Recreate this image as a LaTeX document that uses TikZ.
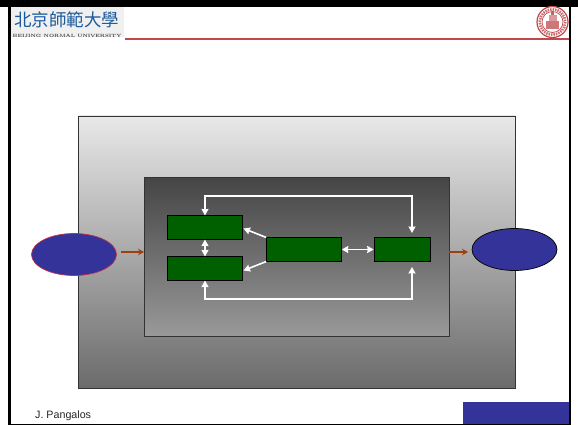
\documentclass[tikz,border=0pt]{standalone}
\usepackage{fontspec}
\setsansfont{Liberation Sans}
\newfontfamily\cjk{Noto Sans CJK SC}
\usetikzlibrary{arrows.meta,positioning,shapes.geometric}
\definecolor{blockgreen}{HTML}{006000}
\definecolor{ovalblue}{HTML}{333399}
\definecolor{arrowbrown}{HTML}{A23E0C}
\definecolor{sealred}{HTML}{C0484C}
\definecolor{logoblue}{HTML}{1C5A9C}
\tikzset{
  whitetip/.tip={Stealth[length=6.5pt,width=7pt,inset=0.5pt]},
  blockbox/.style={draw=black,fill=blockgreen,line width=0.6pt,minimum height=23.5pt},
  oval/.style={ellipse,fill=ovalblue,line width=0.7pt,minimum width=85pt,minimum height=42pt},
  feedarrow/.style={draw=white,line width=1.6pt,-whitetip},
  bothwhite/.style={draw=white,line width=1.6pt,whitetip-whitetip},
  flowarrow/.style={draw=arrowbrown,line width=1.6pt,-{Stealth[length=6pt,width=6.5pt]}}
}
\begin{document}
\begin{tikzpicture}[x=1pt,y=-1pt,inner sep=0pt]
  \useasboundingbox (0,0) rectangle (578,425);
  % slide frame
  \fill[black] (0,0) rectangle (578,7);
  \fill[black] (8,0) rectangle (11,425);
  \fill[black] (8,424) rectangle (571,425);
  \fill[black] (569,0) rectangle (571,425);
  % header
  \fill[gray!12] (11,7) rectangle (124,37);
  \node[anchor=west,text=logoblue,font=\cjk\fontsize{17.5}{18}\selectfont] (logotext) at (14,20) {北京師範大學};
  \node[anchor=west,text=black!75,font=\rmfamily\bfseries\fontsize{4.6}{5}\selectfont] (logoname) at (12.5,36) {BEIJING NORMAL UNIVERSITY};
  \draw[sealred,line width=1.2pt] (125,39) -- (569,39);
  % seal
  \draw[sealred,fill=white,line width=1.2pt] (552.5,22) circle (15.5);
  \draw[sealred!80,line width=2.6pt,dash pattern=on 1.5pt off 1pt] (552.5,22) circle (12.8);
  \draw[sealred,line width=0.7pt] (552.5,22) circle (10.5);
  \fill[sealred!75] (546,21) rectangle (559,29);
  \fill[sealred!55] (548.5,15) rectangle (556.5,21);
  \fill[sealred!85] (551,12.5) rectangle (554,15);
  % panels
  \shade[top color=black!9,bottom color=black!58] (78.5,116) rectangle (515.5,388);
  \draw[black!80,line width=0.6pt] (78.5,116) rectangle (515.5,388);
  \shade[top color=black!73,bottom color=black!40] (144,177) rectangle (449,336);
  \draw[black!80,line width=0.6pt] (144,177) rectangle (449,336);
  % blocks
  \node[blockbox,minimum width=75pt] (upper) at (205,227.5) {};
  \node[blockbox,minimum width=75pt] (lower) at (205,268.5) {};
  \node[blockbox,minimum width=75pt] (middle) at (304,249.5) {};
  \node[blockbox,minimum width=56pt] (right) at (402,249.5) {};
  % ovals
  \node[oval,draw=sealred!70!purple] (source) at (74,254.5) {};
  \node[oval,draw=black] (sink) at (514.5,249.5) {};
  % helper points
  \coordinate (toptarget) at (412,233);
  \coordinate (topcorner) at (412,196);
  \coordinate (bottomtarget) at (412,267);
  \coordinate (bottomcorner) at (412,299);
  \coordinate (upperin) at (243.5,228.5);
  \coordinate (lowerin) at (243.5,270.5);
  \coordinate (flowinend) at (144,252);
  \coordinate (flowinstart) at (121,252);
  \coordinate (flowoutstart) at (449,252);
  \coordinate (flowoutend) at (468,252);
  % connectors
  \draw[flowarrow] (flowinstart) -- (flowinend);
  \draw[flowarrow] (flowoutstart) -- (flowoutend);
  \draw[bothwhite] (upper) -- (lower);
  \draw[feedarrow] (middle.north west) -- (upperin);
  \draw[feedarrow] (middle.south west) -- (lowerin);
  \draw[bothwhite] (middle) -- (right);
  \draw[bothwhite] (upper.north) |- (topcorner) -- (toptarget);
  \draw[bothwhite] (lower.south) |- (bottomcorner) -- (bottomtarget);
  % footer
  \fill[ovalblue] (463,402) rectangle (569,424);
  \node[anchor=west,font=\sffamily\fontsize{10.7}{12}\selectfont,text=black!85] (author) at (35,416) {J. Pangalos};
\end{tikzpicture}
\end{document}
